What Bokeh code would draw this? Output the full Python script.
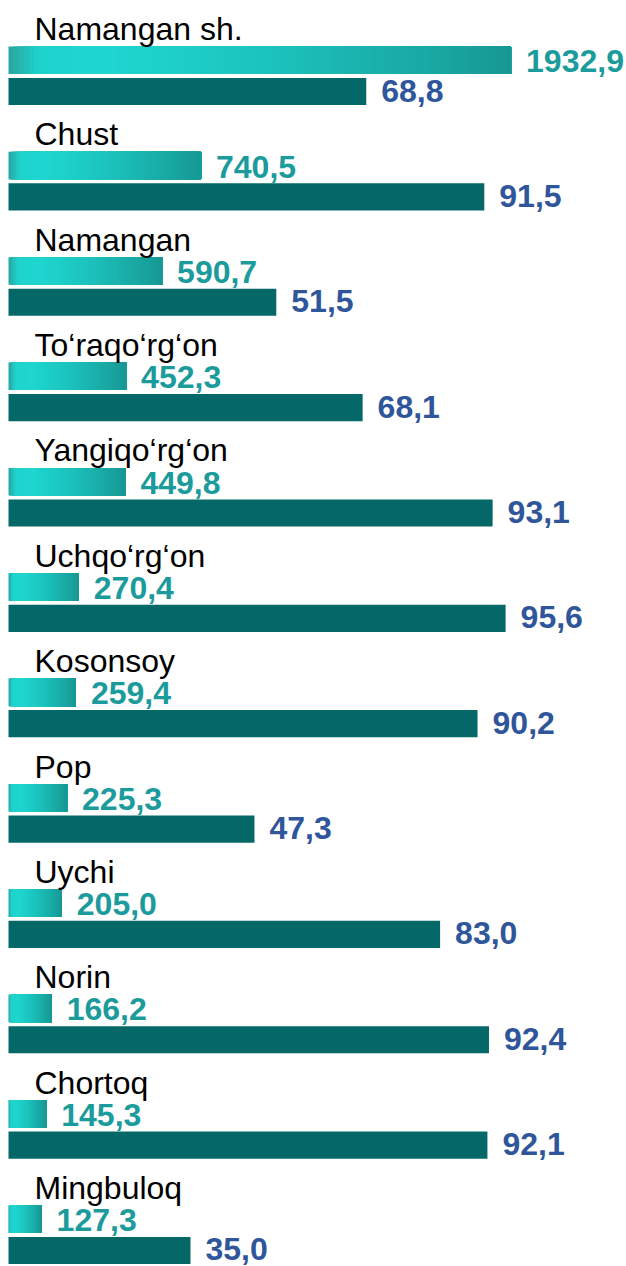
from bokeh.plotting import figure
from bokeh.models import Range1d
from bokeh.core.properties import value
from bokeh.embed import file_html
from bokeh.resources import INLINE

# ---- data ----
districts = ["Namangan sh.", "Chust", "Namangan", "To\u2018raqo\u2018rg\u2018on", "Yangiqo\u2018rg\u2018on",
             "Uchqo\u2018rg\u2018on", "Kosonsoy", "Pop", "Uychi", "Norin", "Chortoq", "Mingbuloq"]
volume = [1932.9, 740.5, 590.7, 452.3, 449.8, 270.4, 259.4, 225.3, 205.0, 166.2, 145.3, 127.3]
share = [68.8, 91.5, 51.5, 68.1, 93.1, 95.6, 90.2, 47.3, 83.0, 92.4, 92.1, 35.0]

def fmt(v):
    return f"{v:.1f}".replace(".", ",")

W, H = 626, 1266
n = len(districts)
PX = 5.2                      # pixels per share unit
X0, X1 = -8 / PX, (W - 8) / PX
K = 20                        # volume axis = 20 x share axis

p = figure(width=W, height=H, output_backend="svg", toolbar_location=None,
           x_range=Range1d(X0, X1), y_range=Range1d(H / 105.36, 0),
           min_border=0, outline_line_color=None, background_fill_color="white",
           border_fill_color="white")
p.extra_x_ranges = {"vol": Range1d(X0 * K, X1 * K)}
p.axis.visible = False
p.grid.visible = False

# gradient for volume bars
stops = [(0.0, (0x2a, 0xa3, 0x9f)), (0.06, (0x1f, 0xd3, 0xcd)), (0.2, (0x1f, 0xd6, 0xd0)),
         (0.5, (0x1c, 0xc4, 0xbe)), (0.8, (0x1a, 0xab, 0xa6)), (1.0, (0x17, 0x98, 0x94))]

def grad(t):
    for (t0, c0), (t1, c1) in zip(stops[:-1], stops[1:]):
        if t0 <= t <= t1:
            f = (t - t0) / (t1 - t0) if t1 > t0 else 0
            r, g, b = (int(round(a + (bb - a) * f)) for a, bb in zip(c0, c1))
            return f"#{r:02x}{g:02x}{b:02x}"
    return "#179894"

y_lab = [i + 0.271 for i in range(n)]
y_b1 = [i + 0.567 for i in range(n)]
y_b2 = [i + 0.864 for i in range(n)]
h1, h2 = 0.262, 0.258

N = 100
ys, ls, rs, cs = [], [], [], []
for i, v in enumerate(volume):
    for k in range(N):
        ys.append(y_b1[i])
        ls.append(v * k / N)
        rs.append(v)
        cs.append(grad((k + 0.5) / N))
p.hbar(y=ys, left=ls, right=rs, height=h1, fill_color=cs, line_color=None, x_range_name="vol")

p.hbar(y=y_b2, left=0, right=share, height=h2, fill_color="#036867", line_color=None)

font = value("Liberation Sans")
p.text(x=[0] * n, y=y_lab, text=districts, x_offset=26, text_baseline="middle",
       text_font=font, text_font_size="32px", text_color="#000000")

p.text(x=volume, y=y_b1, text=[fmt(v) for v in volume], x_offset=15, y_offset=1,
       text_baseline="middle", text_font=font, text_font_style="bold",
       text_font_size="32px", text_color="#1b9b9c", x_range_name="vol")
p.text(x=share, y=y_b2, text=[fmt(v) for v in share], x_offset=15, y_offset=-1,
       text_baseline="middle", text_font=font, text_font_style="bold",
       text_font_size="32px", text_color="#2f559a")

open("out.html", "w").write(file_html(p, INLINE))
